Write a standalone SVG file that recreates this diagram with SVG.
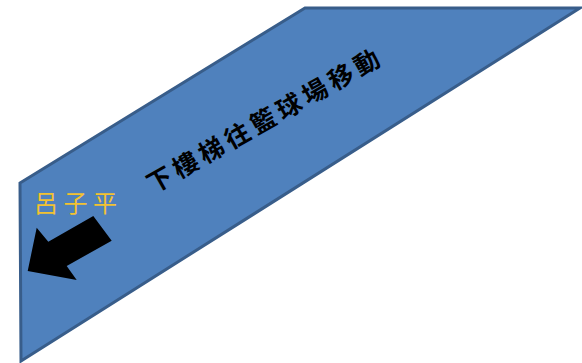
<svg xmlns="http://www.w3.org/2000/svg" width="582" height="363" viewBox="0 0 582 363">
<style>
.band{fill:#4F81BD;stroke:#385D8A;stroke-width:3;stroke-linejoin:miter}
.title{font-family:"Noto Sans CJK TC","Noto Sans CJK JP","Noto Sans CJK SC",sans-serif;font-size:25px;font-weight:700;fill:#000}
.name{font-family:"Noto Sans CJK TC","Noto Sans CJK JP","Noto Sans CJK SC",sans-serif;font-size:24px;font-weight:400;fill:#F2C230}
</style>
<rect width="582" height="363" fill="#fff"/>
<g id="band">
<polygon class="band" points="20,183 305,8 580,8 21,361"/>
</g>
<g id="title">
<text class="title" text-anchor="middle" transform="translate(263.5,121.5) rotate(-29.5)" x="-119 -89.25 -59.5 -29.75 0 29.75 59.5 89.25 119" y="8.5">下樓梯往籃球場移動</text>
</g>
<g id="name">
<text class="name" text-anchor="middle" x="46 75.5 105" y="212">呂子平</text>
</g>
<g id="arrow">
<polygon fill="#000" points="27.7,271 36.7,227.7 48.3,241.7 93.3,216 111.7,240.7 66.7,266 76.7,280"/>
</g>
</svg>
